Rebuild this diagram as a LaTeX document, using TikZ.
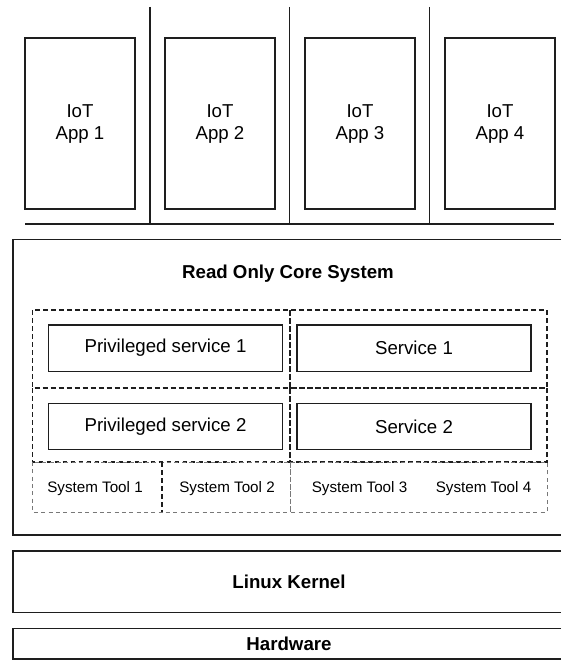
\documentclass[tikz,border=0pt]{standalone}
\usepackage{fontspec}
\setmainfont{Liberation Sans}

\tikzset{every picture/.style={line width=1.1pt}}
\tikzset{
  solidbox/.style={draw={rgb, 255:red, 30; green, 30; blue, 30}},
  sepline/.style={draw={rgb, 255:red, 30; green, 30; blue, 30}, line width=0.8pt},
  rowbox/.style={draw={rgb, 255:red, 30; green, 30; blue, 30}, line width=1.1pt, dash pattern=on 3.5pt off 2.5pt},
  toolbox/.style={draw={rgb, 255:red, 120; green, 120; blue, 120}, line width=0.7pt, dash pattern=on 3pt off 2.5pt},
  applabel/.style={font=\fontsize{14}{16.5}\selectfont, align=center},
  svclabel/.style={font=\fontsize{14}{16.5}\selectfont},
  toollabel/.style={font=\fontsize{11.4}{13}\selectfont},
  layerlabel/.style={font=\fontsize{14}{16.5}\selectfont\bfseries}
}

\begin{document}
\begin{tikzpicture}[x=0.75pt,y=0.75pt,yscale=-1,xscale=1]
\useasboundingbox (0,0) rectangle (561,660);

%Shape: app separators
\draw [sepline] (150,7) -- (150,224) ;
\draw [sepline] (289.5,7) -- (289.5,224) ;
\draw [sepline] (429.5,7) -- (429.5,224) ;
\draw [sepline] (25,224) -- (554,224) ;

%Shape: app boxes
\foreach \i/\x in {1/25,2/165,3/305,4/445} {
  \draw [solidbox] (\x,38) rectangle (\x+110,209) ;
  \draw (\x+55,124) node [applabel] (app\i) {IoT\\App \i};
}

%Shape: core system (right side runs off the page)
\draw [solidbox] (561,239.5) -- (13,239.5) -- (13,535) -- (561,535) ;
\draw (288,273.5) node [layerlabel] (core) {Read Only Core System};

% service rows
\draw [rowbox] (32.5,310) rectangle (290,388) ;
\draw [rowbox] (290,310) rectangle (547,388) ;
\draw [rowbox] (32.5,388) rectangle (290,462) ;
\draw [rowbox] (290,388) rectangle (547,462) ;

\draw [solidbox] (48.5,325) rectangle (282.5,371.5) ;
\draw (165.5,348) node [svclabel] (priv1) {Privileged service 1};
\draw [solidbox] (297,325) rectangle (531,371.5) ;
\draw (414,348) node [svclabel] (svc1) {Service 1};
\draw [solidbox] (48.5,403.5) rectangle (282.5,449.5) ;
\draw (165.5,426.5) node [svclabel] (priv2) {Privileged service 2};
\draw [solidbox] (297,403.5) rectangle (531,449.5) ;
\draw (414,426.5) node [svclabel] (svc2) {Service 2};

% tool row
\draw [toolbox] (32.5,462) rectangle (290,512) ;
\draw [toolbox] (290,462) rectangle (547,512) ;
\draw [rowbox, line width=0.8pt] (162,462) -- (162,512) ;
\draw (95,489) node [toollabel] (tool1) {System Tool 1};
\draw (227,489) node [toollabel] (tool2) {System Tool 2};
\draw (359.5,489) node [toollabel] (tool3) {System Tool 3};
\draw (483.5,489) node [toollabel] (tool4) {System Tool 4};

%Shape: kernel
\draw [solidbox] (561,551) -- (13,551) -- (13,612.5) -- (561,612.5) ;
\draw (289,582) node [layerlabel] (kernel) {Linux Kernel};

%Shape: hardware
\draw [solidbox] (561,628.5) -- (13,628.5) -- (13,659) -- (561,659) ;
\draw (289,644) node [layerlabel] (hw) {Hardware};

\end{tikzpicture}
\end{document}
